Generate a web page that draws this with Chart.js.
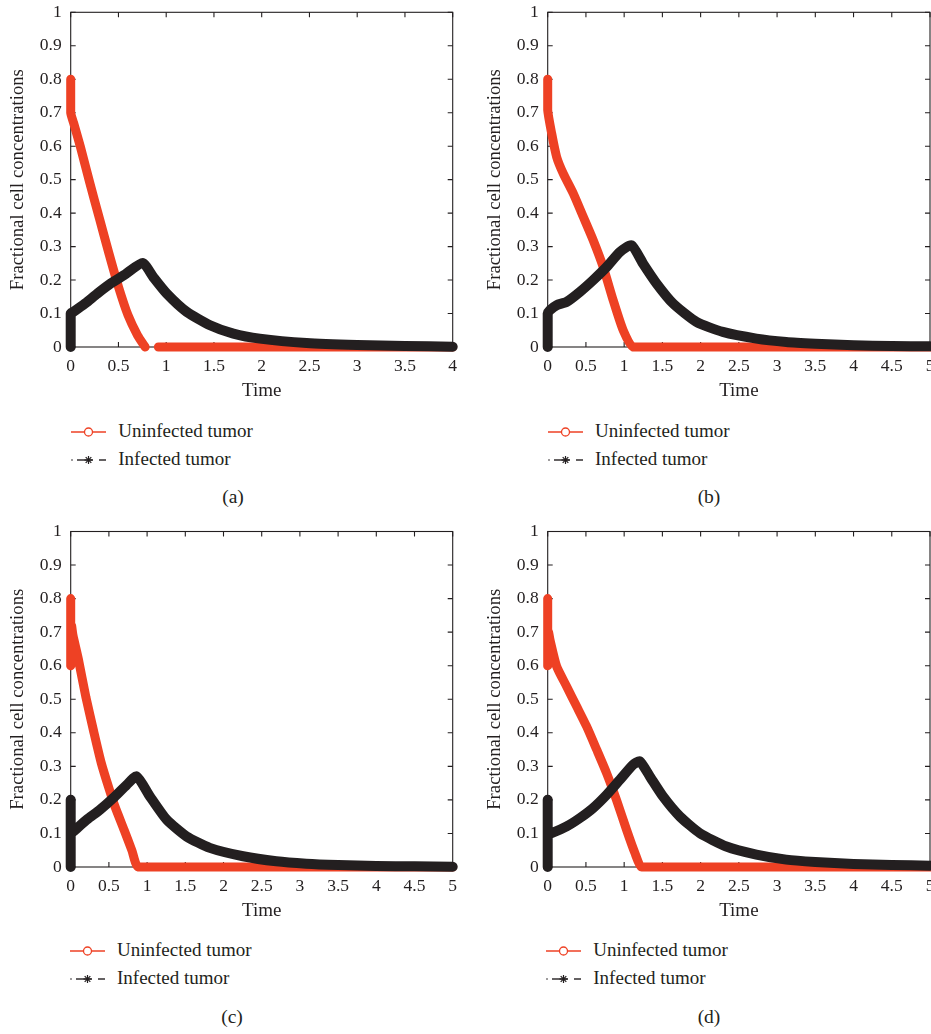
<!DOCTYPE html>
<html>
<head>
<meta charset="utf-8">
<script src="https://cdn.jsdelivr.net/npm/chart.js@4.4.1/dist/chart.umd.min.js"></script>
<style>
  html, body { margin:0; padding:0; background:#ffffff; width:931px; height:1034px; overflow:hidden; }
  canvas { position:absolute; }
  .txt { position:absolute; font-family:"Liberation Serif","Times New Roman",serif; font-size:19px; line-height:19px; color:#231f20; white-space:nowrap; }
  .lbl { position:absolute; font-family:"Liberation Serif","Times New Roman",serif; font-size:19.5px; line-height:20px; color:#231f20; transform:translate(-50%,-50%); }
  svg { position:absolute; overflow:visible; }
</style>
</head>
<body>
<canvas id="ca"></canvas>
<canvas id="cb"></canvas>
<canvas id="cc"></canvas>
<canvas id="cd"></canvas>
<div id="extras"></div>
<script>
// ---------------- data ----------------
const seriesNames = ["Uninfected tumor", "Infected tumor"];
const panelLabels = ["(a)", "(b)", "(c)", "(d)"];
const xAxisTitle = "Time";
const yAxisTitle = "Fractional cell concentrations";
const yTickStep = 0.1;
const xTickStep = 0.5;
const xMaxA = 4, xMaxB = 5, xMaxC = 5, xMaxD = 5;

// (a)
const timeUninfA = [0, 0, 0.03, 0.1, 0.2, 0.3, 0.4, 0.5, 0.6, 0.7, 0.78, 0.85, 0.918, 1.5, 2, 2.5, 3, 3.5, 4];
const uninfA     = [0.8, 0.7, 0.67, 0.6, 0.49, 0.385, 0.28, 0.18, 0.095, 0.035, 0, null, 0, 0, 0, 0, 0, 0, 0];
const timeInfA   = [0, 0, 0.028, 0.15, 0.28, 0.42, 0.56, 0.754, 0.865, 1.005, 1.215, 1.459, 1.703, 1.98, 2.47, 3, 3.5, 4];
const infA       = [0, 0.1, 0.105, 0.13, 0.16, 0.19, 0.215, 0.251, 0.209, 0.16, 0.105, 0.065, 0.04, 0.025, 0.012, 0.006, 0.003, 0.001];

// (b)
const timeUninfB = [0, 0, 0.052, 0.117, 0.204, 0.334, 0.465, 0.595, 0.726, 0.856, 0.987, 1.118, 1.5, 2, 2.5, 3, 3.5, 4, 4.5, 5];
const uninfB     = [0.8, 0.708, 0.638, 0.568, 0.518, 0.459, 0.389, 0.319, 0.239, 0.14, 0.05, 0, 0, 0, 0, 0, 0, 0, 0, 0];
const timeInfB   = [0, 0, 0.03, 0.117, 0.248, 0.422, 0.595, 0.77, 0.944, 1.096, 1.248, 1.423, 1.64, 1.945, 2.29, 2.73, 3.12, 3.5, 4, 4.5, 5];
const infB       = [0, 0.1, 0.11, 0.125, 0.135, 0.165, 0.2, 0.239, 0.284, 0.304, 0.249, 0.19, 0.13, 0.075, 0.045, 0.025, 0.015, 0.01, 0.005, 0.003, 0.002];

// (c)
const timeUninfC = [0, 0, 0.01, 0.03, 0.1, 0.2, 0.3, 0.4, 0.5, 0.58, 0.7, 0.8, 0.885, 1.5, 2, 2.5, 3, 3.5, 4, 4.5, 5];
const uninfC     = [0.8, 0.6, 0.72, 0.69, 0.62, 0.505, 0.405, 0.31, 0.235, 0.18, 0.11, 0.05, 0, 0, 0, 0, 0, 0, 0, 0, 0];
const timeInfC   = [0, 0, 0, 0.035, 0.211, 0.385, 0.559, 0.733, 0.864, 1.038, 1.256, 1.517, 1.821, 2.256, 2.692, 3.083, 3.5, 4, 4.5, 5];
const infC       = [0, 0.2, 0.1, 0.106, 0.141, 0.171, 0.206, 0.245, 0.27, 0.21, 0.141, 0.091, 0.057, 0.032, 0.017, 0.01, 0.006, 0.003, 0.002, 0.001];

// (d)
const timeUninfD = [0, 0, 0.01, 0.03, 0.117, 0.248, 0.378, 0.509, 0.64, 0.77, 0.9, 1.031, 1.14, 1.227, 1.5, 2, 2.5, 3, 3.5, 4, 4.5, 5];
const uninfD     = [0.8, 0.6, 0.7, 0.677, 0.598, 0.538, 0.479, 0.419, 0.35, 0.28, 0.2, 0.111, 0.042, 0, 0, 0, 0, 0, 0, 0, 0, 0];
const timeInfD   = [0, 0, 0, 0.052, 0.248, 0.422, 0.595, 0.77, 0.944, 1.118, 1.205, 1.336, 1.509, 1.727, 1.988, 2.337, 2.729, 3.12, 3.5, 4, 4.5, 5];
const infD       = [0, 0.2, 0.1, 0.101, 0.121, 0.146, 0.176, 0.215, 0.26, 0.305, 0.315, 0.27, 0.21, 0.151, 0.101, 0.061, 0.037, 0.022, 0.015, 0.009, 0.006, 0.004];

// ---------------- styling ----------------
const RED = "#ee4124";
const INK = "#231f20";
const SERIF = "'Liberation Serif','Times New Roman',serif";

function pts(t, v) { return t.map((x, i) => ({ x: x, y: v[i] })); }
function fmt(v) { return String(Math.round(v * 100) / 100); }

const framePlugin = {
  id: "frame",
  beforeDatasetsDraw(chart) {
    const { ctx, chartArea: a, scales } = chart;
    const x = scales.x, y = scales.y;
    ctx.save();
    ctx.strokeStyle = INK;
    ctx.lineWidth = 1.1;
    ctx.strokeRect(a.left, a.top, a.right - a.left, a.bottom - a.top);
    const L = 5;
    ctx.beginPath();
    x.ticks.forEach(t => {
      const px = x.getPixelForValue(t.value);
      ctx.moveTo(px, a.bottom); ctx.lineTo(px, a.bottom - L);
      ctx.moveTo(px, a.top); ctx.lineTo(px, a.top + L);
    });
    y.ticks.forEach(t => {
      const py = y.getPixelForValue(t.value);
      ctx.moveTo(a.left, py); ctx.lineTo(a.left + L, py);
      ctx.moveTo(a.right, py); ctx.lineTo(a.right - L, py);
    });
    ctx.stroke();
    ctx.restore();
  }
};

function makePanel(id, left, top, w, h, pad, xMax, tU, vU, tI, vI) {
  const cv = document.getElementById(id);
  cv.width = w; cv.height = h;
  cv.style.left = left + "px"; cv.style.top = top + "px";
  cv.style.width = w + "px"; cv.style.height = h + "px";
  new Chart(cv, {
    type: "line",
    data: {
      datasets: [
        { label: seriesNames[0], data: pts(tU, vU), borderColor: RED, backgroundColor: RED,
          borderWidth: 9, pointRadius: 0, tension: 0.2, spanGaps: false, fill: false, clip: 10,
          borderCapStyle: "round", borderJoinStyle: "round", order: 1 },
        { label: seriesNames[1], data: pts(tI, vI), borderColor: INK, backgroundColor: INK,
          borderWidth: 10, pointRadius: 0, tension: 0.2, spanGaps: false, fill: false, clip: 10,
          borderCapStyle: "round", borderJoinStyle: "round", order: 0 }
      ]
    },
    options: {
      responsive: false,
      animation: false,
      events: [],
      layout: { padding: pad },
      plugins: { legend: { display: false }, tooltip: { enabled: false } },
      scales: {
        x: {
          type: "linear", min: 0, max: xMax,
          ticks: { stepSize: xTickStep, padding: 9, color: INK, font: { family: SERIF, size: 17.5 }, maxRotation: 0, autoSkip: false, callback: fmt },
          grid: { display: false, drawTicks: false },
          border: { display: false },
          title: { display: true, text: xAxisTitle, color: INK, font: { family: SERIF, size: 19 }, padding: { top: 0, bottom: 5 } },
          afterFit(s) { s.height = 60; s.paddingLeft = 0; s.paddingRight = 0; }
        },
        y: {
          type: "linear", min: 0, max: 1,
          ticks: { stepSize: yTickStep, padding: 9, color: INK, font: { family: SERIF, size: 17.5 }, autoSkip: false, callback: fmt },
          grid: { display: false, drawTicks: false },
          border: { display: false },
          title: { display: true, text: yAxisTitle, color: INK, font: { family: SERIF, size: 18.7 }, padding: { top: 7, bottom: 0 } },
          afterFit(s) { s.width = 70.7; s.paddingTop = 0; s.paddingBottom = 0; }
        }
      }
    },
    plugins: [framePlugin]
  });
}

makePanel("ca", 0,   0,   465, 407, { top: 12.3, right: 12.3, bottom: 0, left: 0 }, xMaxA, timeUninfA, uninfA, timeInfA, infA);
makePanel("cb", 477, 0,   454, 407, { top: 12.3, right: 1,    bottom: 0, left: 0 }, xMaxB, timeUninfB, uninfB, timeInfB, infB);
makePanel("cc", 0,   519, 465, 408, { top: 12.5, right: 12.3, bottom: 0, left: 0 }, xMaxC, timeUninfC, uninfC, timeInfC, infC);
makePanel("cd", 477, 519, 454, 408, { top: 12.5, right: 1,    bottom: 0, left: 0 }, xMaxD, timeUninfD, uninfD, timeInfD, infD);

// ---------------- legends and panel labels (HTML text) ----------------
const extras = document.getElementById("extras");
function legend(symLeft, textLeft, row1) {
  const row2 = row1 + 28.3;
  const s1 = document.createElementNS("http://www.w3.org/2000/svg", "svg");
  s1.setAttribute("width", "36"); s1.setAttribute("height", "12");
  s1.style.left = symLeft + "px"; s1.style.top = (row1 - 6) + "px";
  s1.innerHTML = '<line x1="0" y1="6" x2="35" y2="6" stroke="' + RED + '" stroke-width="1.3"/>' +
                 '<circle cx="17.5" cy="6" r="4" fill="#ffffff" stroke="' + RED + '" stroke-width="1.3"/>';
  extras.appendChild(s1);
  const s2 = document.createElementNS("http://www.w3.org/2000/svg", "svg");
  s2.setAttribute("width", "36"); s2.setAttribute("height", "12");
  s2.style.left = symLeft + "px"; s2.style.top = (row2 - 6) + "px";
  s2.innerHTML = '<circle cx="1" cy="6" r="0.8" fill="' + INK + '"/>' +
                 '<line x1="6" y1="6" x2="22" y2="6" stroke="' + INK + '" stroke-width="1.4"/>' +
                 '<line x1="28" y1="6" x2="35" y2="6" stroke="' + INK + '" stroke-width="1.4"/>' +
                 '<g stroke="' + INK + '" stroke-width="1.2">' +
                 '<line x1="17.5" y1="2" x2="17.5" y2="10"/><line x1="13.5" y1="6" x2="21.5" y2="6"/>' +
                 '<line x1="14.7" y1="3.2" x2="20.3" y2="8.8"/><line x1="14.7" y1="8.8" x2="20.3" y2="3.2"/></g>';
  extras.appendChild(s2);
  const t1 = document.createElement("div");
  t1.className = "txt"; t1.textContent = seriesNames[0];
  t1.style.left = textLeft + "px"; t1.style.top = (row1 + 5 - 16) + "px";
  extras.appendChild(t1);
  const t2 = document.createElement("div");
  t2.className = "txt"; t2.textContent = seriesNames[1];
  t2.style.left = textLeft + "px"; t2.style.top = (row2 + 5 - 16) + "px";
  extras.appendChild(t2);
}
legend(71, 118.3, 431.7);
legend(547.7, 595, 431.7);
legend(70, 117, 950.7);
legend(546, 593.3, 950.7);

function plabel(text, cx, cy) {
  const d = document.createElement("div");
  d.className = "lbl"; d.textContent = text;
  d.style.left = cx + "px"; d.style.top = cy + "px";
  extras.appendChild(d);
}
plabel(panelLabels[0], 233, 497);
plabel(panelLabels[1], 709, 497);
plabel(panelLabels[2], 232, 1017);
plabel(panelLabels[3], 709, 1017);
</script>
</body>
</html>
